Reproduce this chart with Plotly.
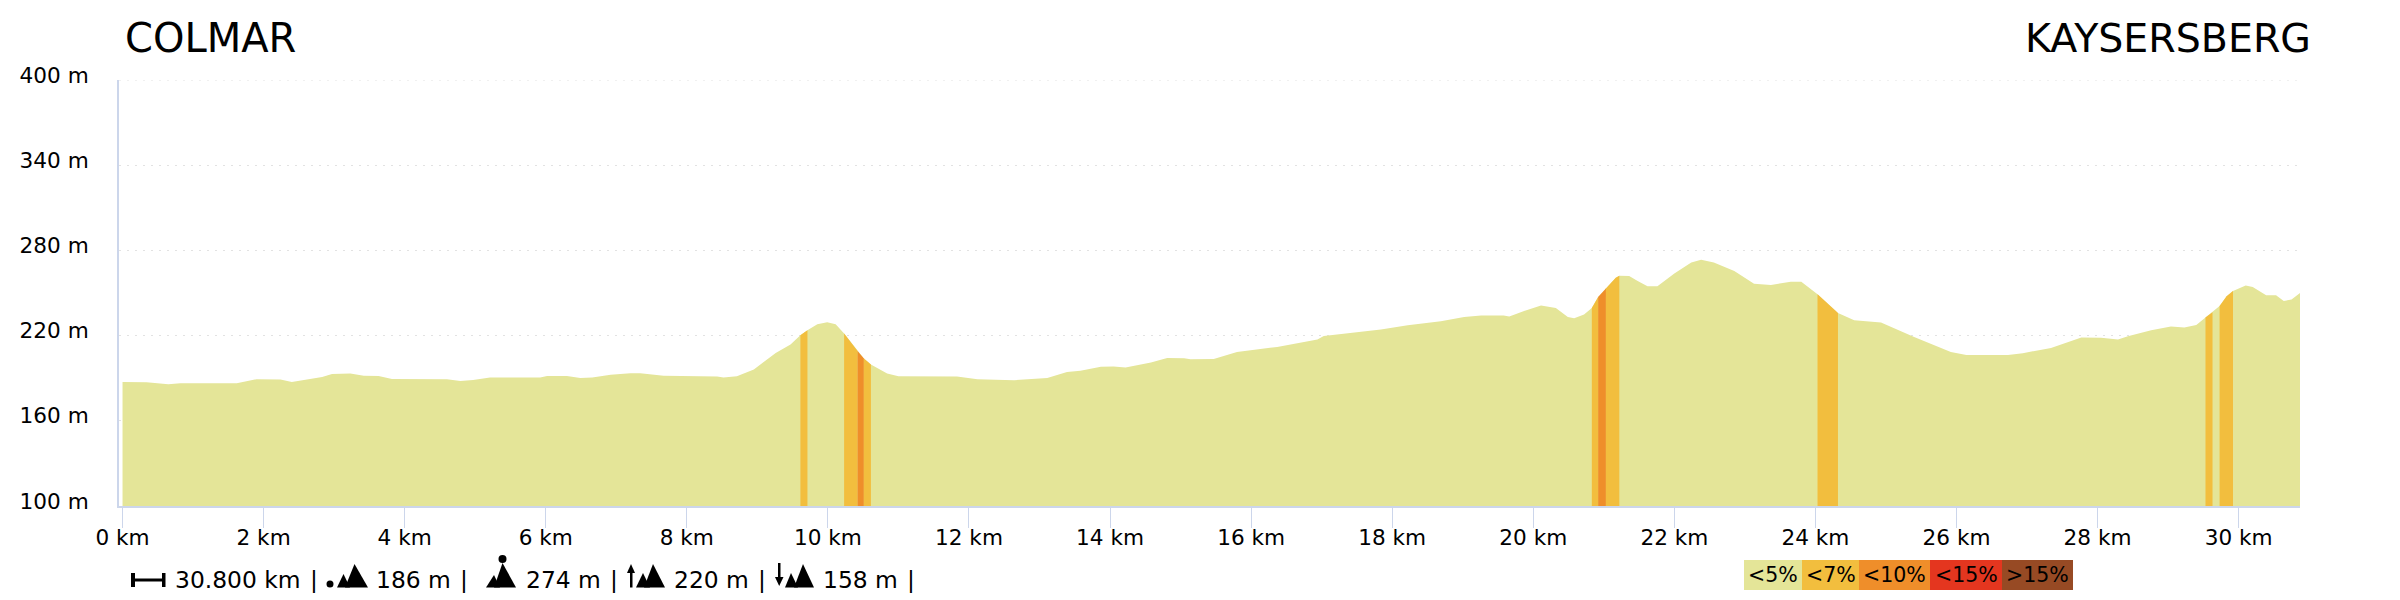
import plotly.graph_objects as go

# --- data ---
km = [0, 0.34, 0.65, 0.82, 1.62, 1.90, 2.24, 2.40, 2.83, 2.97, 3.23, 3.42, 3.63, 3.82, 4.60, 4.79, 4.97, 5.21,
      5.92, 6.02, 6.30, 6.49, 6.66, 6.92, 7.20, 7.34, 7.67, 8.43, 8.52, 8.71, 8.95, 9.09, 9.26, 9.47, 9.61, 9.71,
      9.85, 9.99, 10.11, 10.23, 10.42, 10.51, 10.61, 10.84, 11.00, 11.83, 12.12, 12.54, 12.64, 13.11, 13.39, 13.58,
      13.87, 14.05, 14.22, 14.58, 14.81, 15.05, 15.14, 15.47, 15.66, 15.80, 16.37, 16.94, 17.03, 17.84, 18.22,
      18.69, 19.02, 19.26, 19.58, 19.66, 19.87, 20.11, 20.32, 20.49, 20.58, 20.72, 20.83, 20.92, 21.03, 21.17,
      21.22, 21.36, 21.48, 21.62, 21.76, 22.00, 22.24, 22.38, 22.56, 22.85, 23.13, 23.37, 23.65, 23.80, 24.03,
      24.32, 24.55, 24.93, 25.40, 25.92, 26.14, 26.73, 26.94, 27.34, 27.77, 28.05, 28.29, 28.43, 28.76, 29.04,
      29.23, 29.40, 29.53, 29.63, 29.73, 29.83, 29.92, 30.10, 30.20, 30.39, 30.53, 30.64, 30.75, 30.87]
elevation = [187.4, 187.2, 185.8, 186.5, 186.5, 189.3, 189.0, 187.4, 190.9, 193.0, 193.3, 191.7, 191.5, 189.5, 189.3,
             188.1, 188.8, 190.5, 190.5, 191.5, 191.5, 190.2, 190.5, 192.4, 193.4, 193.5, 191.7, 191.2, 190.5, 191.4,
             196.1, 201.5, 207.8, 213.7, 220.3, 223.8, 228.0, 229.4, 228.0, 221.5, 209.2, 203.9, 199.7, 193.3, 191.4,
             191.2, 189.3, 189.1, 188.6, 190.2, 194.3, 195.2, 198.0, 198.3, 197.6, 201.0, 204.3, 204.1, 203.4, 203.6,
             206.2, 208.5, 212.0, 217.2, 219.8, 224.3, 227.3, 230.1, 233.1, 234.1, 234.1, 233.4, 237.4, 241.2, 239.5,
             233.1, 232.2, 234.8, 239.5, 247.2, 253.1, 260.8, 262.1, 262.0, 258.5, 254.7, 254.7, 263.7, 271.4, 273.5,
             271.4, 265.5, 256.6, 255.7, 258.0, 258.0, 249.1, 236.0, 230.8, 229.2, 219.1, 208.5, 206.4, 206.4, 207.6,
             211.3, 218.7, 218.5, 217.2, 219.6, 223.8, 226.4, 225.7, 227.5, 232.7, 236.5, 240.9, 247.7, 251.4, 255.2,
             254.3, 248.4, 248.4, 244.4, 245.4, 250.0]

# steep sections: (start km, end km, legend class)
steep_start = [9.61, 10.23, 10.42, 10.51, 20.83, 20.92, 21.03, 24.03, 29.53, 29.73]
steep_end = [9.71, 10.42, 10.51, 10.61, 20.92, 21.03, 21.22, 24.32, 29.63, 29.92]
steep_class = ["<7%", "<7%", "<10%", "<7%", "<7%", "<10%", "<7%", "<7%", "<7%", "<7%"]

grade_labels = ["<5%", "<7%", "<10%", "<15%", ">15%"]
grade_colors = ["#E4E598", "#F2BE3E", "#EF8E2A", "#E4361F", "#974A24"]

x_ticks = list(range(0, 31, 2))
x_tick_labels = [f"{v} km" for v in x_ticks]
y_ticks = [100, 160, 220, 280, 340, 400]
y_tick_labels = [f"{v} m" for v in y_ticks]

start_name = "COLMAR"
end_name = "KAYSERSBERG"
stats = ["30.800 km", "186 m", "274 m", "220 m", "158 m"]

# --- page geometry ---
W, H = 2400, 600
L, R, T, B = 119, 100, 80, 94
FONT = "DejaVu Sans"
AXIS = "#ccd6eb"
GRID = "#e2e2e2"
GRID_DASH = "2px,6px"
color_of = dict(zip(grade_labels, grade_colors))


def px(x):
    return (x - L) / (W - L - R)


def py(y):
    return 1 - (y - T) / (H - T - B)


fig = go.Figure()
fig.add_trace(go.Scatter(x=km, y=elevation, mode="lines", fill="tozeroy", fillcolor=grade_colors[0],
                         line=dict(width=0, color=grade_colors[0]), hoverinfo="skip", showlegend=False))
for a, b, c in zip(steep_start, steep_end, steep_class):
    xs = [k for k in km if a <= k <= b]
    ys = [e for k, e in zip(km, elevation) if a <= k <= b]
    fig.add_trace(go.Scatter(x=xs, y=ys, mode="lines", fill="tozeroy", fillcolor=color_of[c],
                             line=dict(width=0, color=color_of[c]), hoverinfo="skip", showlegend=False))

shapes = []
annotations = []

# plotly leaves out the gridline at the very top of the range, so the 400 m one is added
shapes.append(dict(type="line", xref="paper", yref="y", x0=0, x1=1, y0=y_ticks[-1], y1=y_ticks[-1],
                   line=dict(color=GRID, width=1, dash=GRID_DASH), layer="below"))


def text(x, y, s, size=23.4, anchor="left"):
    annotations.append(dict(x=px(x), y=py(y), xref="paper", yref="paper", text=s, showarrow=False,
                            xanchor=anchor, yanchor="middle", font=dict(family=FONT, size=size, color="#000000"),
                            borderpad=0, borderwidth=0))


def poly(points, color="#000000"):
    d = "M " + " L ".join(f"{px(x):.6f} {py(y):.6f}" for x, y in points) + " Z"
    shapes.append(dict(type="path", path=d, xref="paper", yref="paper", fillcolor=color,
                       line=dict(width=0), layer="above"))


def dot(x, y, r):
    shapes.append(dict(type="circle", xref="paper", yref="paper", x0=px(x - r), x1=px(x + r),
                       y0=py(y + r), y1=py(y - r), fillcolor="#000000", line=dict(width=0)))


def rect(x0, y0, x1, y1, color="#000000"):
    shapes.append(dict(type="rect", xref="paper", yref="paper", x0=px(x0), x1=px(x1), y0=py(y1), y1=py(y0),
                       fillcolor=color, line=dict(width=0), layer="above"))


# titles
text(125, 38, start_name, size=40)
text(2311, 38, end_name, size=39.5, anchor="right")

# stats strip
rect(131, 573, 135, 587)
rect(135, 578.5, 162, 581.5)
rect(162, 573, 165.5, 587)
text(175, 580, stats[0])
text(314, 580, "|", anchor="center")
dot(330, 584, 3.5)
poly([(337, 587.5), (343.5, 574), (350, 587.5)])
poly([(345, 587.5), (354.5, 564), (368, 587.5)])
text(376, 580, stats[1])
text(464, 580, "|", anchor="center")
dot(502.5, 559, 4)
poly([(486, 587.5), (494, 575), (500, 587.5)])
poly([(494, 587.5), (502.5, 563), (516, 587.5)])
text(526, 580, stats[2])
text(613.5, 580, "|", anchor="center")
poly([(627, 573), (631, 564), (635, 573)])
rect(630, 572, 632.5, 587.5)
poly([(636, 587.5), (643, 573), (650, 587.5)])
poly([(644, 587.5), (653, 564), (665, 587.5)])
text(674, 580, stats[3])
text(762, 580, "|", anchor="center")
rect(778, 563, 780.5, 578)
poly([(775, 577), (779.2, 586), (783.5, 577)])
poly([(785, 587.5), (791, 573), (798, 587.5)])
poly([(794, 587.5), (803, 564), (814, 587.5)])
text(823, 580, stats[4])
text(911, 580, "|", anchor="center")

# gradient key
key_edges = [1744, 1802, 1859, 1930, 2002, 2073]
for i, (lab, col) in enumerate(zip(grade_labels, grade_colors)):
    rect(key_edges[i], 560, key_edges[i + 1], 590, col)
    text((key_edges[i] + key_edges[i + 1]) / 2, 575, lab, size=20.5, anchor="center")

fig.update_layout(
    width=W, height=H, margin=dict(l=L, r=R, t=T, b=B, pad=0), paper_bgcolor="white", plot_bgcolor="white",
    font=dict(family=FONT, size=21, color="#000000"), showlegend=False, hovermode=False,
    shapes=shapes, annotations=annotations,
    xaxis=dict(range=[-0.05, 30.87], tickmode="array", tickvals=x_ticks, ticktext=x_tick_labels, ticks="outside",
               ticklen=20, tickwidth=1, tickcolor=AXIS, showline=True, linecolor=AXIS, linewidth=2, showgrid=False,
               zeroline=False, tickfont=dict(family=FONT, size=21.6, color="#000000"), ticklabelstandoff=-9),
    yaxis=dict(range=[100, 400], tickmode="array", tickvals=y_ticks, ticktext=y_tick_labels, ticks="",
               showline=True, linecolor=AXIS, linewidth=2, showgrid=True, gridcolor=GRID, gridwidth=1,
               griddash=GRID_DASH, zeroline=False, tickfont=dict(family=FONT, size=21.6, color="#000000"),
               ticklabelstandoff=24, ticklabelshift=-5),
)

fig.write_html("out.html", post_script="document.body.style.margin='0';", config={"displayModeBar": False})
